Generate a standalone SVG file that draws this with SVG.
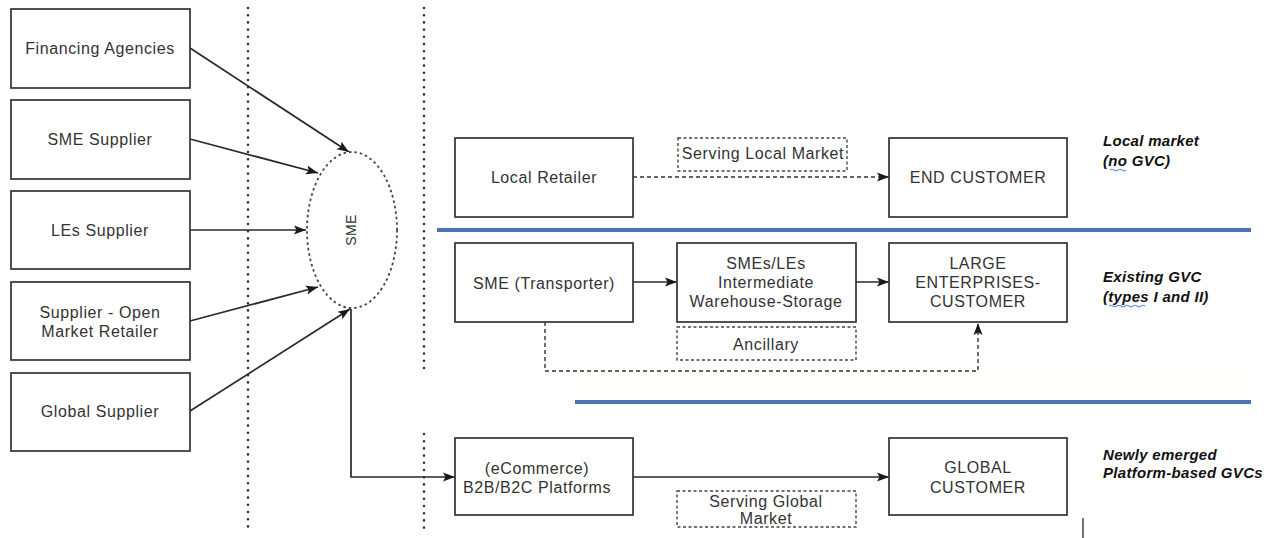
<svg xmlns="http://www.w3.org/2000/svg" width="1279" height="538" viewBox="0 0 1279 538">
  <defs>
    <marker id="arrow" viewBox="0 0 12 10" refX="12" refY="5" markerWidth="12" markerHeight="10" markerUnits="userSpaceOnUse" orient="auto">
      <path d="M0,0.5 L12,5 L0,9.5 L2.5,5 Z" fill="#1a1a1a"/>
    </marker>
    <style>
      .box { fill: #ffffff; stroke: #333333; stroke-width: 1.7; }
      .dbox { fill: #ffffff; stroke: #444444; stroke-width: 1.4; stroke-dasharray: 3 2.5; }
      .lbl { font-family: "Liberation Sans", Arial, sans-serif; font-size: 16px; letter-spacing: 0.6px; fill: #333333; text-anchor: middle; }
      .side { font-family: "Liberation Sans", Arial, sans-serif; font-size: 15px; font-weight: bold; font-style: italic; letter-spacing: 0.3px; fill: #111111; }
      .conn { fill: none; stroke: #2a2a2a; stroke-width: 1.7; }
      .dconn { fill: none; stroke: #333333; stroke-width: 1.4; stroke-dasharray: 4 3; }
      .dots { stroke: #333333; stroke-width: 2.6; stroke-linecap: round; stroke-dasharray: 0 7.2; }
      .band { stroke: #4a73b3; stroke-width: 4; }
      .squig { stroke: #6b8fd0; stroke-width: 1.2; fill: none; }
    </style>
  </defs>

  <rect width="1279" height="538" fill="#ffffff"/>

  <!-- column separators -->
  <g id="separators">
    <line class="dots" x1="248" y1="8" x2="248" y2="528"/>
    <line class="dots" x1="424" y1="8" x2="424" y2="368"/>
    <line class="dots" x1="424" y1="434" x2="424" y2="528"/>
  </g>

  <!-- market bands -->
  <g id="bands">
    <rect x="575" y="374" width="676" height="40" fill="#fffffb"/>
    <line class="band" x1="437" y1="230" x2="1251" y2="230"/>
    <line class="band" x1="575" y1="402" x2="1251" y2="402"/>
  </g>

  <!-- connectors -->
  <g id="connectors">
    <line class="conn" x1="190" y1="48" x2="349" y2="152" marker-end="url(#arrow)"/>
    <line class="conn" x1="190" y1="139" x2="318" y2="173" marker-end="url(#arrow)"/>
    <line class="conn" x1="190" y1="230" x2="306" y2="230" marker-end="url(#arrow)"/>
    <line class="conn" x1="190" y1="321" x2="318" y2="287" marker-end="url(#arrow)"/>
    <line class="conn" x1="190" y1="411" x2="350" y2="309" marker-end="url(#arrow)"/>
    <polyline class="conn" points="351,309 351,477 455,477" marker-end="url(#arrow)"/>
    <line class="dconn" x1="633" y1="177" x2="889" y2="177" marker-end="url(#arrow)"/>
    <line class="conn" x1="633" y1="282" x2="677" y2="282" marker-end="url(#arrow)"/>
    <line class="conn" x1="856" y1="282" x2="889" y2="282" marker-end="url(#arrow)"/>
    <polyline class="dconn" points="545,322 545,371 978,371 978,323" marker-end="url(#arrow)"/>
    <line class="conn" x1="633" y1="477" x2="889" y2="477" marker-end="url(#arrow)"/>
    <line x1="1083" y1="518" x2="1083" y2="538" stroke="#333333" stroke-width="1.4"/>
  </g>

  <!-- supplier column -->
  <g id="financing-agencies">
    <rect class="box" x="11" y="9" width="179" height="79"/>
    <text class="lbl" x="100" y="54">Financing Agencies</text>
  </g>
  <g id="sme-supplier">
    <rect class="box" x="11" y="100" width="179" height="79"/>
    <text class="lbl" x="100" y="145">SME Supplier</text>
  </g>
  <g id="les-supplier">
    <rect class="box" x="11" y="191" width="179" height="78"/>
    <text class="lbl" x="100" y="236">LEs Supplier</text>
  </g>
  <g id="open-market-supplier">
    <rect class="box" x="11" y="282" width="179" height="78"/>
    <text class="lbl" x="100" y="318">Supplier - Open</text>
    <text class="lbl" x="100" y="337">Market Retailer</text>
  </g>
  <g id="global-supplier">
    <rect class="box" x="11" y="373" width="179" height="78"/>
    <text class="lbl" x="100" y="417">Global Supplier</text>
  </g>

  <!-- central SME -->
  <g id="sme">
    <ellipse cx="352" cy="230" rx="45" ry="78" fill="#ffffff" stroke="#444444" stroke-width="1.8" stroke-dasharray="2.5 3"/>
    <text class="lbl" x="0" y="0" transform="translate(356,230) rotate(-90)" style="font-size:14px;letter-spacing:0.3px">SME</text>
  </g>

  <!-- local market row -->
  <g id="local-retailer">
    <rect class="box" x="455" y="138" width="178" height="79"/>
    <text class="lbl" x="544" y="183">Local Retailer</text>
  </g>
  <g id="serving-local-market">
    <rect class="dbox" x="678" y="138" width="169" height="33"/>
    <text class="lbl" x="763" y="159">Serving Local Market</text>
  </g>
  <g id="end-customer">
    <rect class="box" x="889" y="138" width="178" height="79"/>
    <text class="lbl" x="978" y="183">END CUSTOMER</text>
  </g>

  <!-- existing GVC row -->
  <g id="sme-transporter">
    <rect class="box" x="455" y="243" width="178" height="79"/>
    <text class="lbl" x="544" y="289">SME (Transporter)</text>
  </g>
  <g id="warehouse-storage">
    <rect class="box" x="677" y="243" width="179" height="79"/>
    <text class="lbl" x="766" y="269">SMEs/LEs</text>
    <text class="lbl" x="766" y="288">Intermediate</text>
    <text class="lbl" x="766" y="307">Warehouse-Storage</text>
  </g>
  <g id="ancillary">
    <rect class="dbox" x="677" y="327" width="179" height="33"/>
    <text class="lbl" x="766" y="350">Ancillary</text>
  </g>
  <g id="large-enterprises-customer">
    <rect class="box" x="889" y="243" width="178" height="79"/>
    <text class="lbl" x="978" y="269">LARGE</text>
    <text class="lbl" x="978" y="288">ENTERPRISES-</text>
    <text class="lbl" x="978" y="307">CUSTOMER</text>
  </g>

  <!-- platform-based row -->
  <g id="platforms">
    <rect class="box" x="455" y="438" width="178" height="77"/>
    <text class="lbl" x="537" y="474">(eCommerce)</text>
    <text class="lbl" x="537" y="493">B2B/B2C Platforms</text>
  </g>
  <g id="serving-global-market">
    <rect class="dbox" x="677" y="491" width="179" height="36"/>
    <text class="lbl" x="766" y="507">Serving Global</text>
    <text class="lbl" x="766" y="524">Market</text>
  </g>
  <g id="global-customer">
    <rect class="box" x="889" y="438" width="178" height="77"/>
    <text class="lbl" x="978" y="473">GLOBAL</text>
    <text class="lbl" x="978" y="493">CUSTOMER</text>
  </g>

  <!-- row captions -->
  <g id="captions">
    <text class="side" x="1103" y="146">Local market</text>
    <text class="side" x="1103" y="166">(no GVC)</text>
    <path class="squig" d="M1110,170 q2,-1.5 4,0 t4,0 t4,0 t4,0"/>
    <text class="side" x="1103" y="282">Existing GVC</text>
    <text class="side" x="1103" y="302">(types I and II)</text>
    <path class="squig" d="M1109,306 q2,-1.5 4,0 t4,0 t4,0 t4,0 t4,0 t4,0 t4,0 t4,0 t4,0"/>
    <text class="side" x="1103" y="460">Newly emerged</text>
    <text class="side" x="1103" y="478">Platform-based GVCs</text>
  </g>
</svg>
